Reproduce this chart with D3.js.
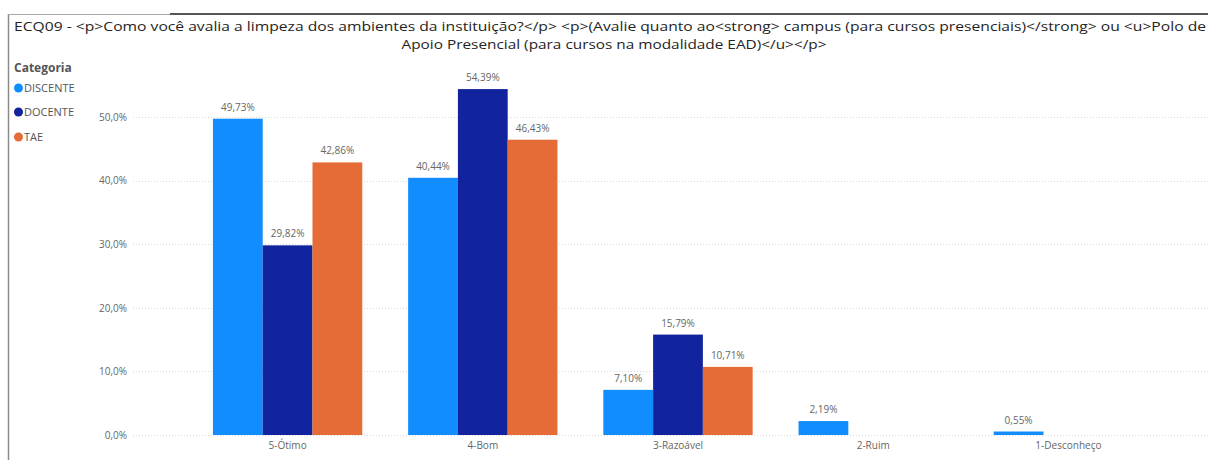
<!DOCTYPE html>
<html><head><meta charset="utf-8">
<script src="https://cdn.jsdelivr.net/npm/d3@7"></script>
<style>body{margin:0;background:#fff;}svg{display:block;font-family:"Segoe UI","Open Sans","DejaVu Sans",sans-serif;}</style>
</head><body><svg id="c" width="1208" height="462"></svg>
<script>
const categories = ["5-Ótimo","4-Bom","3-Razoável","2-Ruim","1-Desconheço"];
const seriesNames = ["DISCENTE","DOCENTE","TAE"];
const discente = [49.73, 40.44, 7.10, 2.19, 0.55];
const docente = [29.82, 54.39, 15.79, null, null];
const tae = [42.86, 46.43, 10.71, null, null];
const yTicks = [0,10,20,30,40,50];
const colors = ["#118DFF","#12239E","#E66C37"];
const titleLine1 = "ECQ09 - <p>Como você avalia a limpeza dos ambientes da instituição?</p> <p>(Avalie quanto ao<strong> campus (para cursos presenciais)</strong> ou <u>Polo de";
const titleLine2 = "Apoio Presencial (para cursos na modalidade EAD)</u></p>";

const svg = d3.select("#c");
const values = [discente, docente, tae];
const fmt = v => v.toFixed(2).replace(".", ",") + "%";

// frame
svg.append("line").attr("x1",8.5).attr("x2",8.5).attr("y1",14).attr("y2",460).attr("stroke","#8a8a8a").attr("stroke-width",1.5);
svg.append("line").attr("x1",8).attr("x2",170).attr("y1",14.5).attr("y2",14.5).attr("stroke","#aaa").attr("stroke-width",1);
svg.append("line").attr("x1",170).attr("x2",1208).attr("y1",14).attr("y2",14).attr("stroke","#555").attr("stroke-width",2);

// title
svg.append("text").attr("x",14).attr("y",31).attr("font-size",13).attr("fill","#252423")
  .attr("textLength",1192).attr("lengthAdjust","spacingAndGlyphs").text(titleLine1);
svg.append("text").attr("x",614).attr("y",49).attr("font-size",13).attr("fill","#252423")
  .attr("text-anchor","middle").attr("textLength",425).attr("lengthAdjust","spacingAndGlyphs").text(titleLine2);

// legend
svg.append("text").attr("x",14).attr("y",72).attr("font-size",12).attr("font-weight","bold").attr("fill","#555").text("Categoria");
const ly = [88,112,137];
seriesNames.forEach((s,i)=>{
  svg.append("circle").attr("cx",18.5).attr("cy",ly[i]).attr("r",4.5).attr("fill",colors[i]);
  svg.append("text").attr("x",24).attr("y",ly[i]+4).attr("font-size",11).attr("fill","#555").text(s);
});

const y = d3.scaleLinear().domain([0,50]).range([435,117]);
const x = d3.scaleBand().domain(categories).range([190,1166]).paddingInner(0.235).paddingOuter(0.1175);
const xs = d3.scaleBand().domain(seriesNames).range([0,x.bandwidth()]);

// grid
const g = svg.append("g");
g.selectAll("line.grid").data(yTicks).enter().append("line")
  .attr("x1",133).attr("x2",1208).attr("y1",d=>Math.round(y(d))+0.5).attr("y2",d=>Math.round(y(d))+0.5)
  .attr("stroke","#d9d9d9").attr("stroke-dasharray","1,2");

// y axis labels
const yAxis = d3.axisLeft(y).tickValues(yTicks).tickSize(0).tickPadding(0).tickFormat(d=>d.toFixed(1).replace(".",",")+"%");
const ya = svg.append("g").attr("transform","translate(127,0)").call(yAxis);
ya.select(".domain").remove();
ya.selectAll("text").attr("font-size",10).attr("fill","#666").attr("font-family","'Segoe UI','Open Sans',sans-serif");

// x axis labels
const xAxis = d3.axisBottom(x).tickSize(0).tickPadding(0);
const xa = svg.append("g").attr("transform","translate(0,442)").call(xAxis);
xa.select(".domain").remove();
xa.selectAll("text").attr("font-size",10).attr("fill","#666").attr("font-family","'Segoe UI','Open Sans',sans-serif");

// bars
seriesNames.forEach((s,i)=>{
  const data = categories.map((c,j)=>({c, v: values[i][j]})).filter(d=>d.v!==null);
  svg.append("g").selectAll("rect").data(data).enter().append("rect")
    .attr("x",d=>x(d.c)+xs(s)).attr("width",xs.bandwidth())
    .attr("y",d=>y(d.v)).attr("height",d=>y(0)-y(d.v)).attr("fill",colors[i]);
  svg.append("g").selectAll("text").data(data).enter().append("text")
    .attr("x",d=>x(d.c)+xs(s)+xs.bandwidth()/2).attr("y",d=>y(d.v)-8)
    .attr("text-anchor","middle").attr("font-size",10).attr("fill","#666").text(d=>fmt(d.v));
});
</script></body></html>
